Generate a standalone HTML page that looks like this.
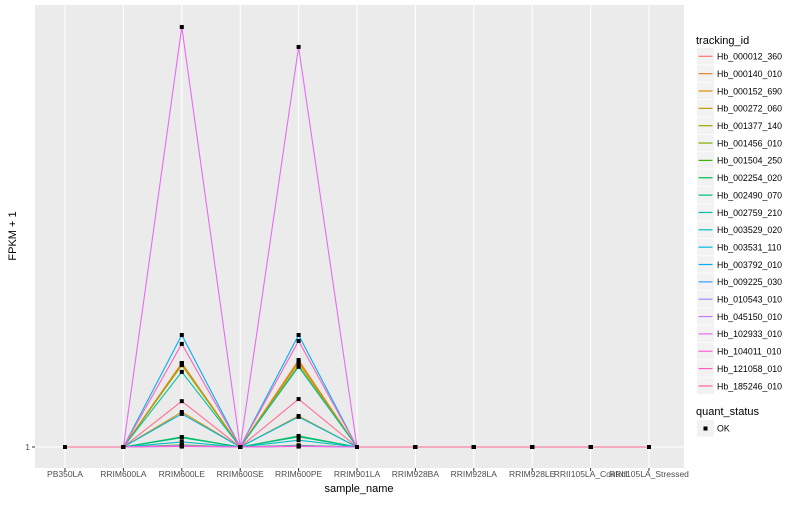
<!DOCTYPE html>
<html><head><meta charset="utf-8"><style>
body{margin:0;background:#fff;font-family:"Liberation Sans",sans-serif}
</style></head><body>
<svg id="c" width="800" height="500" xmlns="http://www.w3.org/2000/svg" font-family="Liberation Sans, sans-serif"></svg>
<script>
const categories=["PB350LA","RRIM600LA","RRIM600LE","RRIM600SE","RRIM600PE","RRIM901LA","RRIM928BA","RRIM928LA","RRIM928LE","RRII105LA_Control","RRII105LA_Stressed"];
const seriesIds=["Hb_000012_360","Hb_000140_010","Hb_000152_690","Hb_000272_060","Hb_001377_140","Hb_001456_010","Hb_001504_250","Hb_002254_020","Hb_002490_070","Hb_002759_210","Hb_003529_020","Hb_003531_110","Hb_003792_010","Hb_009225_030","Hb_010543_010","Hb_045150_010","Hb_102933_010","Hb_104011_010","Hb_121058_010","Hb_185246_010"];
const seriesColors=["#F8766D","#EA8331","#D89000","#C09B00","#A3A500","#7CAE00","#39B600","#00BB4E","#00BF7D","#00C1A3","#00BFC4","#00BAE0","#00B0F6","#35A2FF","#9590FF","#C77CFF","#E76BF3","#FA62DB","#FF62BC","#FF6C91"];
// values at RRIM600LE and RRIM600PE; all other samples = 1
const leValues=[20.8,20.8,9.25,20.5,20.3,1.5,1.4,3.36,3.2,18.7,2.2,8.8,27.4,1.3,1.2,1.3,100,1.1,25.3,11.8];
const peValues=[21.0,21.5,8.3,21.0,20.3,1.4,1.3,3.6,3.4,19.9,2.6,8.1,27.4,1.3,1.2,1.2,95.3,1.1,26.0,12.3];
const yTicks=[1];
const NS="http://www.w3.org/2000/svg";
const svg=document.getElementById('c');
function mk(t,a,p){const e=document.createElementNS(NS,t);for(const k in a)e.setAttribute(k,a[k]);(p||svg).appendChild(e);return e;}
const L=35,R=684,T=5,B=468;
const xS=i=>65+i*((649-65)/(categories.length-1));
const yS=v=>447-(v-1)*(420/99);
const panel=mk('rect',{x:L,y:T,width:R-L,height:B-T,fill:'#EBEBEB'});


categories.forEach((c,i)=>{
 const g=mk('line',{x1:xS(i),x2:xS(i),y1:T,y2:B,stroke:'#fff','stroke-width':1.1});
 
 
 const tk=mk('line',{x1:xS(i),x2:xS(i),y1:B,y2:B+3,stroke:'#333'});
 
 
 const t=mk('text',{x:xS(i),y:477,'font-size':8.5,fill:'#4D4D4D','text-anchor':'middle'});
 t.textContent=c;
 
 
});
yTicks.forEach(v=>{
 const g=mk('line',{x1:L,x2:R,y1:yS(v),y2:yS(v),stroke:'#fff','stroke-width':1.1});
 
 
 const tk=mk('line',{x1:L-3,x2:L,y1:yS(v),y2:yS(v),stroke:'#333'});
 
 
 const t=mk('text',{x:L-5,y:yS(v)+3,'font-size':8.5,fill:'#4D4D4D','text-anchor':'end'});
 t.textContent=v;
 
 
});
function vals(s){return categories.map((c,i)=>i===2?leValues[s]:i===4?peValues[s]:1);}
seriesIds.forEach((id,s)=>{
 const pts=vals(s).map((v,i)=>xS(i)+','+yS(v)).join(' ');
 const pl=mk('polyline',{points:pts,fill:'none',stroke:seriesColors[s],'stroke-width':1.1});
 
 
});
seriesIds.forEach((id,s)=>{
 vals(s).forEach((v,i)=>{
  const p=mk('rect',{x:xS(i)-2,y:yS(v)-2,width:4,height:4,fill:'#000'});
  
  
 });
});
const xt=mk('text',{x:359,y:492,'font-size':11,fill:'#000','text-anchor':'middle'});
xt.textContent='sample_name';


const yt=mk('text',{x:0,y:0,'font-size':11,fill:'#000','text-anchor':'middle',transform:'translate(16,236) rotate(-90)'});
yt.textContent='FPKM + 1';


const lt=mk('text',{x:696,y:44,'font-size':11,fill:'#000'});
lt.textContent='tracking_id';


seriesIds.forEach((id,s)=>{
 const cy=56.3+s*17.35;
 const g=mk('g',{});
 
 
 mk('rect',{x:697,y:cy-8.3,width:17,height:16.6,fill:'#F2F2F2'},g);
 mk('line',{x1:698.5,x2:712.5,y1:cy,y2:cy,stroke:seriesColors[s],'stroke-width':1.2},g);
 const t=mk('text',{x:717,y:cy+3.3,'font-size':8.8,fill:'#000'},g);
 t.textContent=id;
});
const qt=mk('text',{x:696,y:415,'font-size':11,fill:'#000'});
qt.textContent='quant_status';


const og=mk('g',{});


mk('rect',{x:697,y:420,width:17,height:16.6,fill:'#F2F2F2'},og);
mk('rect',{x:703.5,y:426.5,width:4,height:4,fill:'#000'},og);
const ok=mk('text',{x:717,y:431.5,'font-size':8.8,fill:'#000'},og);
ok.textContent='OK';
</script>
</body></html>
